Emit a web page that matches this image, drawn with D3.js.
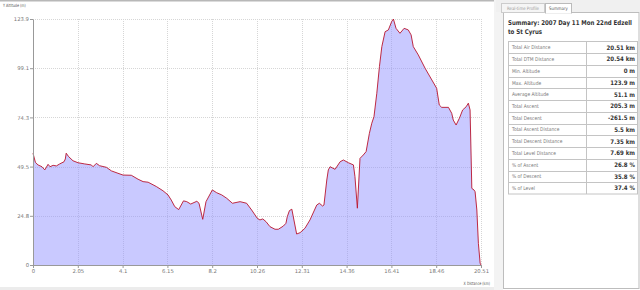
<!DOCTYPE html>
<html><head><meta charset="utf-8">
<script src="https://cdn.jsdelivr.net/npm/d3@7"></script>
<style>
html,body{margin:0;padding:0;background:#fff;}
svg{display:block;}
text{font-family:"DejaVu Sans",Verdana,sans-serif;}
</style></head>
<body>
<svg id="c" width="640" height="290"></svg>
<script>
// ---- data ----
const distanceKm = [0,0.11,0.23,0.41,0.54,0.69,0.78,0.92,1.07,1.22,1.42,1.48,1.52,1.63,1.83,2.06,2.37,2.67,2.75,2.90,3.05,3.36,3.59,3.89,4.12,4.50,4.81,5.04,5.27,5.65,5.95,6.18,6.33,6.49,6.67,6.89,7.04,7.22,7.50,7.60,7.77,7.92,8.21,8.41,8.64,8.87,9.13,9.48,9.78,10.01,10.27,10.39,10.52,10.67,10.85,11.08,11.23,11.46,11.58,11.64,11.74,11.85,12.07,12.23,12.45,12.68,12.99,13.11,13.26,13.32,13.45,13.52,13.60,13.83,14.06,14.21,14.44,14.67,14.74,14.85,14.97,15.12,15.25,15.40,15.51,15.61,15.74,15.86,15.97,16.12,16.27,16.42,16.50,16.62,16.80,16.99,17.18,17.31,17.41,17.64,17.95,18.26,18.48,18.60,18.71,19.02,19.17,19.24,19.37,19.52,19.67,19.83,19.93,20.01,20.09,20.19,20.24,20.32,20.39,20.47,20.51];
const altitudeM = [56.3,51.7,50.4,49.5,47.9,50.7,49.5,50.2,49.9,50.9,52.0,53.4,56.3,54.6,52.5,51.5,50.9,50.4,49.5,51.2,50.0,49.2,47.4,46.2,45.3,45.2,43.2,42.0,41.7,39.5,37.4,35.3,32.7,29.4,27.9,32.3,31.9,30.7,32.1,31.1,23.0,31.9,37.8,36.4,35.3,33.6,31.1,31.9,31.1,27.7,23.5,22.7,23.2,21.8,19.3,18.0,18.0,19.6,21.0,24.3,27.4,28.1,15.6,16.3,18.5,22.7,30.2,31.1,29.7,30.2,42.8,47.9,49.5,48.2,52.0,52.9,51.5,50.4,44.5,28.6,53.7,55.4,57.1,66.3,71.4,74.7,86.5,99.9,110.0,117.5,118.4,122.6,123.9,119.2,116.7,119.2,118.4,115.9,110.0,105.8,99.1,93.2,89.0,80.6,79.4,79.4,76.4,73.0,70.5,73.9,78.1,79.7,81.5,78.1,38.6,37.8,36.9,27.7,10.9,0.9,0];
const xTickValues = [0,2.051,4.102,6.153,8.204,10.255,12.306,14.357,16.408,18.459,20.51];
const xTickLabels = ["0","2.05","4.1","6.15","8.2","10.26","12.31","14.36","16.41","18.46","20.51"];
const yTickValues = [0,24.78,49.56,74.34,99.12,123.9];
const yTickLabels = ["0","24.8","49.5","74.3","99.1","123.9"];
const summaryTitle = ["Summary: 2007 Day 11 Mon 22nd Edzell","to St Cyrus"];
const summaryLabels = ["Total Air Distance","Total DTM Distance","Min. Altitude","Max. Altitude","Average Altitude","Total Ascent","Total Descent","Total Ascent Distance","Total Descent Distance","Total Level Distance","% of Ascent","% of Descent","% of Level"];
const summaryValues = ["20.51 km","20.54 km","0 m","123.9 m","51.1 m","205.3 m","-261.5 m","5.5 km","7.35 km","7.69 km","26.8 %","35.8 %","37.4 %"];
const tabLabels = ["Real-time Profile","Summary"];

const svg = d3.select("#c");
const SX = 0.8; // horizontal text squeeze
function txt(g, x, y, s, size, opts={}) {
  return g.append("text")
    .attr("transform", `translate(${x},${y}) scale(${opts.sx||SX},1)`)
    .attr("text-anchor", opts.anchor||"start")
    .attr("font-size", size)
    .attr("font-weight", opts.weight||"normal")
    .attr("fill", opts.fill||"#666")
    .text(s);
}

// background frames
svg.append("rect").attr("x",0).attr("y",0).attr("width",640).attr("height",290).attr("fill","#fff");
svg.append("rect").attr("x",0).attr("y",0).attr("width",500).attr("height",1.5).attr("fill","#b8b8b8");
svg.append("rect").attr("x",0).attr("y",287).attr("width",503).attr("height",3).attr("fill","#ececec");
svg.append("rect").attr("x",494).attr("y",0).attr("width",9).attr("height",290).attr("fill","#f3f3f3");

// ---- chart ----
const x = d3.scaleLinear().domain([0,20.51]).range([33,481]);
const y = d3.scaleLinear().domain([0,123.9]).range([265,19]);

const grid = svg.append("g").attr("stroke","#d6d6d6").attr("stroke-width",1).attr("stroke-dasharray","1,1");
xTickValues.slice(1).forEach(v=>{
  grid.append("line").attr("x1",Math.round(x(v))+0.5).attr("x2",Math.round(x(v))+0.5).attr("y1",y(123.9)).attr("y2",y(0));
});
yTickValues.slice(1).forEach(v=>{
  grid.append("line").attr("x1",x(0)).attr("x2",x(20.51)).attr("y1",Math.round(y(v))+0.5).attr("y2",Math.round(y(v))+0.5);
});

const pts = distanceKm.map((d,i)=>[d, altitudeM[i]]);
const area = d3.area().x(d=>x(d[0])).y0(y(0)).y1(d=>y(d[1]));
const line = d3.line().x(d=>x(d[0])).y(d=>y(d[1]));
svg.append("path").datum(pts).attr("d",area).attr("fill","#8f8fff").attr("fill-opacity",0.48);
svg.append("path").datum(pts).attr("d",line).attr("fill","none").attr("stroke","#b8142e").attr("stroke-width",0.9);

// axes
const xAxis = svg.append("g").attr("transform",`translate(0,${y(0)})`)
  .call(d3.axisBottom(x).tickValues(xTickValues).tickFormat((d,i)=>xTickLabels[i]).tickSize(3).tickSizeOuter(0));
const yAxis = svg.append("g").attr("transform",`translate(${x(0)},0)`)
  .call(d3.axisLeft(y).tickValues(yTickValues).tickFormat((d,i)=>yTickLabels[i]).tickSize(3).tickSizeOuter(0));
[xAxis,yAxis].forEach(a=>{
  a.select(".domain").attr("stroke","#999");
  a.selectAll(".tick line").attr("stroke","#999");
  a.selectAll(".tick text").attr("fill","#777").attr("font-size",5.3).attr("font-family","DejaVu Sans");
});
xAxis.selectAll(".tick text").attr("dy","0.5em").attr("y",5);
yAxis.selectAll(".tick text").attr("x",-4);

txt(svg, 3, 7, "Y Altitude (m)", 4.4, {fill:"#555", sx:0.75});
txt(svg, 490, 285, "X Distance (km)", 4.4, {fill:"#555", anchor:"end", sx:0.75});

// ---- summary panel ----
const p = svg.append("g");
p.append("rect").attr("x",496).attr("y",0).attr("width",144).attr("height",12).attr("fill","#f0f0f0");
p.append("rect").attr("x",503.5).attr("y",12.5).attr("width",135.5).attr("height",276).attr("fill","#fff").attr("stroke","#bdbdbd");
p.append("rect").attr("x",501.5).attr("y",3.5).attr("width",43).attr("height",9).attr("fill","#f5f5f5").attr("stroke","#ccc");
p.append("rect").attr("x",545.5).attr("y",3.5).attr("width",26).attr("height",9.5).attr("fill","#fff").attr("stroke","#bbb");
p.append("rect").attr("x",546).attr("y",12).attr("width",25).attr("height",1.5).attr("fill","#fff");
txt(p, 523, 9.8, tabLabels[0], 4.6, {anchor:"middle", fill:"#9a9a9a", sx:0.85});
txt(p, 558.5, 9.8, tabLabels[1], 4.6, {anchor:"middle", fill:"#555", sx:0.85});

txt(p, 508, 24.5, summaryTitle[0], 6.6, {weight:"bold", fill:"#333", sx:0.83});
txt(p, 508, 33.5, summaryTitle[1], 6.6, {weight:"bold", fill:"#333", sx:0.83});

const rowY = d3.scaleLinear().domain([0,13]).range([41.5,194]);
const tbl = p.append("g");
tbl.append("rect").attr("x",508.5).attr("y",rowY(0)).attr("width",129).attr("height",rowY(13)-rowY(0)).attr("fill","none").attr("stroke","#c4c4c4");
tbl.append("line").attr("x1",586.5).attr("x2",586.5).attr("y1",rowY(0)).attr("y2",rowY(13)).attr("stroke","#c4c4c4");
summaryLabels.forEach((l,i)=>{
  if(i>0) tbl.append("line").attr("x1",508.5).attr("x2",637.5).attr("y1",Math.round(rowY(i))+0.5).attr("y2",Math.round(rowY(i))+0.5).attr("stroke","#c4c4c4");
  const cy = (rowY(i)+rowY(i+1))/2;
  txt(tbl, 512, cy+2, l, 5.2, {fill:"#777", sx:0.85});
  txt(tbl, 635, cy+2.3, summaryValues[i], 6.2, {anchor:"end", weight:"bold", fill:"#333", sx:0.88});
});
</script>
</body></html>
